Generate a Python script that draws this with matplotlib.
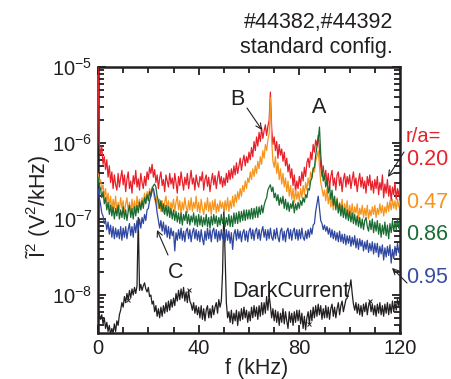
import numpy as np
import matplotlib
matplotlib.use("Agg")
import matplotlib.pyplot as plt
from matplotlib.ticker import LogLocator, FixedLocator, MultipleLocator, NullFormatter

plt.rcParams['font.family'] = ['Liberation Sans', 'DejaVu Sans']
plt.rcParams['mathtext.fontset'] = 'custom'
plt.rcParams['mathtext.rm'] = 'Liberation Sans'
plt.rcParams['mathtext.it'] = 'Liberation Sans:italic'
plt.rcParams['mathtext.default'] = 'regular'

# frequency axis (kHz), 0.5 kHz spacing
freq = np.arange(0, 120.01, 0.5)

# log10 of spectral power
red_020 = [
 -4.9, -6.0, -6.15, -6.05, -6.28, -6.18, -6.35, -6.22, -6.45, -6.3, -6.52, -6.38, -6.6, -6.42, -6.55, -6.62, -6.4, -6.58, -6.46, -6.36,
 -6.55, -6.42, -6.64, -6.48, -6.38, -6.6, -6.5, -6.66, -6.43, -6.54, -6.36, -6.58, -6.47, -6.62, -6.4, -6.52, -6.6, -6.44, -6.56, -6.38,
 -6.48, -6.32, -6.4, -6.28, -6.45, -6.35, -6.52, -6.42, -6.6, -6.46, -6.38, -6.56, -6.48, -6.64, -6.42, -6.5, -6.58, -6.4, -6.54, -6.46,
 -6.6, -6.4, -6.52, -6.66, -6.44, -6.56, -6.38, -6.5, -6.62, -6.45, -6.55, -6.4, -6.6, -6.48, -6.36, -6.54, -6.46, -6.62, -6.42, -6.52,
 -6.58, -6.44, -6.5, -6.38, -6.62, -6.48, -6.42, -6.57, -6.45, -6.64, -6.5, -6.4, -6.55, -6.43, -6.6, -6.47, -6.37, -6.54, -6.44, -6.58,
 -6.46, -6.56, -6.4, -6.52, -6.36, -6.48, -6.34, -6.46, -6.3, -6.42, -6.26, -6.4, -6.3, -6.2, -6.36, -6.24, -6.16, -6.3, -6.18, -6.26,
 -6.12, -6.22, -6.06, -6.18, -5.98, -6.1, -5.92, -6.04, -5.86, -5.98, -5.8, -5.94, -5.84, -5.76, -5.9, -5.78, -5.7, -5.33, -5.8, -6.02,
 -5.92, -6.1, -5.98, -6.2, -6.02, -6.16, -6.08, -6.24, -6.12, -6.3, -6.2, -6.38, -6.28, -6.46, -6.34, -6.56, -6.42, -6.64, -6.5, -6.6,
 -6.44, -6.56, -6.38, -6.5, -6.32, -6.44, -6.26, -6.2, -6.32, -6.12, -6.22, -6.02, -6.12, -5.96, -6.04, -5.9, -6.08, -6.32, -6.44, -6.3,
 -6.48, -6.36, -6.54, -6.4, -6.6, -6.44, -6.36, -6.56, -6.46, -6.62, -6.42, -6.38, -6.56, -6.45, -6.64, -6.48, -6.4, -6.58, -6.44, -6.54,
 -6.42, -6.6, -6.48, -6.38, -6.56, -6.46, -6.64, -6.5, -6.4, -6.58, -6.45, -6.6, -6.5, -6.66, -6.44, -6.56, -6.42, -6.62, -6.5, -6.66,
 -6.48, -6.6, -6.44, -6.68, -6.52, -6.62, -6.42, -6.72, -6.54, -6.66, -6.48, -6.7, -6.56, -6.76, -6.58, -6.68, -6.52, -6.74, -6.6, -6.7,
 -6.56]

orange_047 = [
 -6.4, -6.52, -6.48, -6.62, -6.55, -6.72, -6.6, -6.78, -6.66, -6.84, -6.7, -6.9, -6.74, -6.86, -6.7, -6.92, -6.78, -6.88, -6.72, -6.86,
 -6.76, -6.94, -6.8, -6.72, -6.9, -6.78, -6.94, -6.74, -6.88, -6.76, -6.92, -6.7, -6.84, -6.74, -6.88, -6.72, -6.8, -6.66, -6.76, -6.64,
 -6.72, -6.6, -6.68, -6.58, -6.66, -6.74, -6.8, -6.7, -6.86, -6.74, -6.9, -6.76, -6.92, -6.78, -6.7, -6.88, -6.76, -6.94, -6.78, -6.86,
 -6.74, -6.9, -6.78, -6.7, -6.88, -6.76, -6.94, -6.78, -6.88, -6.72, -6.84, -6.92, -6.76, -6.88, -6.72, -6.9, -6.78, -6.86, -6.7, -6.9,
 -6.78, -6.92, -6.74, -6.86, -6.94, -6.78, -6.88, -6.72, -6.9, -6.78, -6.94, -6.76, -6.88, -6.74, -6.92, -6.8, -6.9, -6.76, -6.86, -6.78,
 -6.9, -6.76, -6.88, -6.72, -6.9, -6.76, -6.86, -6.7, -6.84, -6.68, -6.78, -6.64, -6.74, -6.6, -6.7, -6.56, -6.64, -6.5, -6.6, -6.46,
 -6.52, -6.38, -6.48, -6.34, -6.44, -6.3, -6.4, -6.24, -6.34, -6.18, -6.28, -6.1, -6.2, -6.02, -6.1, -5.96, -5.88, -5.4, -5.96, -6.24,
 -6.32, -6.18, -6.4, -6.26, -6.48, -6.34, -6.54, -6.4, -6.58, -6.46, -6.64, -6.5, -6.7, -6.56, -6.74, -6.6, -6.78, -6.62, -6.74, -6.64,
 -6.76, -6.6, -6.72, -6.56, -6.68, -6.52, -6.62, -6.46, -6.56, -6.38, -6.46, -6.32, -6.38, -6.24, -6.18, -6.1, -6.3, -6.52, -6.6, -6.7,
 -6.62, -6.76, -6.6, -6.8, -6.68, -6.84, -6.72, -6.88, -6.76, -6.84, -6.72, -6.92, -6.78, -6.88, -6.74, -6.94, -6.8, -6.9, -6.76, -6.96,
 -6.82, -6.94, -6.8, -6.98, -6.84, -6.92, -6.8, -7.0, -6.86, -6.94, -6.82, -6.98, -6.86, -6.96, -6.82, -7.0, -6.88, -6.96, -6.84, -6.94,
 -6.82, -6.98, -6.86, -6.94, -6.8, -6.92, -6.82, -6.96, -6.84, -6.92, -6.78, -6.9, -6.76, -6.88, -6.74, -6.86, -6.76, -6.88, -6.74, -6.84,
 -6.76]

green_086 = [
 -6.45, -6.56, -6.6, -6.72, -6.64, -6.8, -6.72, -6.88, -6.78, -6.94, -6.82, -6.96, -6.84, -7.0, -6.86, -6.96, -6.82, -7.0, -6.88, -6.98,
 -6.84, -7.0, -6.88, -7.02, -6.9, -6.82, -6.98, -6.86, -7.0, -6.84, -6.96, -6.82, -6.92, -6.78, -6.88, -6.76, -6.86, -6.72, -6.8, -6.68,
 -6.76, -6.64, -6.7, -6.6, -6.56, -6.54, -6.58, -6.7, -6.76, -6.86, -6.76, -6.9, -6.8, -6.94, -6.82, -6.96, -6.84, -6.98, -6.86, -7.0,
 -6.88, -7.02, -6.9, -7.04, -6.92, -7.06, -6.92, -7.08, -6.94, -7.02, -6.9, -7.06, -6.94, -7.08, -6.96, -7.04, -6.92, -7.08, -6.96, -7.1,
 -6.94, -7.08, -6.96, -7.1, -6.98, -7.08, -6.94, -7.1, -6.98, -7.12, -6.96, -7.08, -6.94, -7.06, -6.96, -7.1, -6.98, -7.08, -6.94, -7.06,
 -6.96, -7.1, -6.98, -7.08, -6.94, -7.1, -6.96, -7.1, -6.92, -7.06, -6.92, -7.06, -6.9, -7.04, -6.9, -7.02, -6.88, -7.02, -6.88, -7.0,
 -6.88, -7.0, -6.86, -7.0, -6.86, -6.98, -6.84, -6.98, -6.84, -6.94, -6.82, -6.92, -6.82, -6.76, -6.72, -6.62, -6.58, -6.55, -6.64, -6.58,
 -6.72, -6.66, -6.76, -6.68, -6.82, -6.72, -6.8, -6.7, -6.86, -6.74, -6.88, -6.78, -6.9, -6.8, -6.86, -6.76, -6.92, -6.8, -6.88, -6.78,
 -6.86, -6.76, -6.82, -6.72, -6.78, -6.68, -6.72, -6.6, -6.62, -6.5, -6.46, -6.34, -6.32, -6.16, -6.05, -5.95, -5.79, -6.15, -6.36, -6.5,
 -6.42, -6.58, -6.48, -6.66, -6.56, -6.74, -6.62, -6.82, -6.7, -6.88, -6.74, -6.92, -6.8, -6.96, -6.82, -6.98, -6.86, -7.0, -6.88, -7.02,
 -6.9, -7.04, -6.92, -7.06, -6.94, -7.08, -6.96, -7.1, -6.98, -7.12, -7.0, -7.14, -7.02, -6.98, -7.1, -7.16, -7.02, -7.14, -7.0, -7.18,
 -7.04, -7.16, -7.02, -7.2, -7.06, -7.24, -7.08, -7.2, -7.04, -7.22, -7.08, -7.26, -7.06, -7.18, -7.02, -7.16, -7.04, -7.14, -7.0, -7.12,
 -7.04]

blue_095 = [
 -6.6, -6.72, -6.8, -6.92, -6.96, -7.06, -7.02, -7.14, -7.04, -7.2, -7.08, -7.24, -7.1, -7.26, -7.12, -7.24, -7.14, -7.26, -7.1, -7.28,
 -7.12, -7.24, -7.1, -7.26, -7.14, -7.06, -7.22, -7.1, -7.24, -7.06, -7.18, -7.02, -7.14, -7.0, -7.12, -6.98, -7.06, -6.94, -7.02, -6.88,
 -6.86, -6.76, -6.7, -6.62, -6.6, -6.68, -6.78, -6.92, -7.02, -7.12, -7.02, -7.16, -7.04, -7.2, -7.08, -7.24, -7.1, -7.26, -7.12, -7.22,
 -7.16, -7.42, -7.18, -7.28, -7.14, -7.26, -7.12, -7.28, -7.16, -7.3, -7.16, -7.12, -7.26, -7.14, -7.3, -7.18, -7.12, -7.26, -7.14, -7.28,
 -7.16, -7.3, -7.14, -7.26, -7.34, -7.16, -7.28, -7.12, -7.26, -7.14, -7.3, -7.16, -7.12, -7.26, -7.14, -7.3, -7.16, -7.28, -7.14, -7.26,
 -7.16, -7.3, -7.14, -7.28, -7.16, -7.32, -7.18, -7.4, -7.2, -7.14, -7.28, -7.14, -7.26, -7.16, -7.3, -7.18, -7.14, -7.28, -7.16, -7.3,
 -7.16, -7.12, -7.26, -7.14, -7.28, -7.16, -7.12, -7.26, -7.14, -7.28, -7.16, -7.1, -7.24, -7.14, -7.28, -7.14, -7.26, -7.12, -7.24, -7.28,
 -7.14, -7.26, -7.12, -7.24, -7.3, -7.16, -7.12, -7.28, -7.16, -7.3, -7.16, -7.12, -7.26, -7.14, -7.28, -7.16, -7.12, -7.26, -7.14, -7.28,
 -7.14, -7.26, -7.12, -7.24, -7.28, -7.16, -7.26, -7.14, -7.24, -7.12, -7.2, -7.08, -7.06, -6.9, -6.8, -6.7, -6.86, -7.02, -7.06, -7.14,
 -7.08, -7.16, -7.1, -7.2, -7.12, -7.24, -7.14, -7.26, -7.16, -7.28, -7.18, -7.3, -7.16, -7.3, -7.2, -7.32, -7.2, -7.34, -7.22, -7.32,
 -7.22, -7.36, -7.24, -7.34, -7.22, -7.38, -7.26, -7.4, -7.26, -7.36, -7.28, -7.42, -7.3, -7.4, -7.28, -7.44, -7.32, -7.42, -7.3, -7.46,
 -7.32, -7.44, -7.32, -7.5, -7.36, -7.46, -7.34, -7.54, -7.38, -7.5, -7.36, -7.48, -7.34, -7.58, -7.4, -7.52, -7.36, -7.48, -7.32, -7.44,
 -7.36]

dark_current = [
 -8.15, -8.25, -8.32, -8.26, -8.38, -8.3, -8.44, -8.36, -8.48, -8.4, -8.52, -8.44, -8.5, -8.38, -8.48, -8.34, -8.4, -8.26, -8.2, -8.1,
 -8.16, -8.02, -8.1, -7.98, -8.06, -7.94, -8.04, -7.92, -8.0, -7.9, -7.98, -7.88, -6.98, -7.94, -7.86, -7.94, -7.88, -7.84, -7.92, -7.96,
 -7.9, -8.02, -8.0, -8.12, -8.08, -8.22, -8.14, -8.28, -8.18, -8.3, -8.16, -8.28, -8.14, -8.24, -8.1, -8.22, -8.08, -8.2, -8.06, -8.16,
 -8.04, -8.14, -7.98, -8.08, -7.94, -8.06, -7.92, -8.04, -7.9, -8.08, -7.96, -8.1, -7.94, -8.08, -8.12, -8.2, -8.1, -8.24, -8.14, -8.26,
 -8.16, -8.3, -8.14, -8.32, -8.18, -8.34, -8.2, -8.14, -8.3, -8.18, -8.3, -8.14, -8.26, -8.16, -8.1, -8.24, -8.06, -8.16, -8.08, -7.7,
 -6.86, -7.5, -8.1, -8.3, -8.22, -8.36, -8.2, -8.38, -8.24, -8.34, -8.2, -8.4, -8.22, -8.34, -8.18, -8.32, -8.16, -8.3, -8.2, -8.36,
 -8.22, -8.34, -8.16, -8.3, -8.14, -8.28, -8.16, -8.32, -8.14, -8.28, -8.1, -8.26, -8.1, -8.24, -8.02, -8.2, -8.0, -8.14, -8.3, -8.18,
 -8.34, -8.2, -8.36, -8.22, -8.4, -8.24, -8.36, -8.18, -8.38, -8.22, -8.34, -8.44, -8.22, -8.36, -8.24, -8.4, -8.22, -8.36, -8.2, -8.34,
 -8.2, -8.38, -8.24, -8.44, -8.28, -8.46, -8.3, -8.22, -8.38, -8.2, -8.34, -8.16, -8.3, -8.14, -8.28, -8.12, -8.26, -8.14, -8.32, -8.18,
 -8.3, -8.14, -8.3, -8.16, -8.32, -8.18, -8.12, -8.28, -8.16, -8.3, -8.18, -8.1, -8.26, -8.14, -8.08, -8.22, -8.14, -8.06, -8.04, -7.96,
 -7.9, -7.8, -7.98, -8.12, -8.2, -8.1, -8.24, -8.12, -8.26, -8.14, -8.28, -8.12, -8.22, -8.1, -8.26, -8.14, -8.08, -8.22, -8.12, -8.26,
 -8.14, -8.28, -8.12, -8.24, -8.1, -8.26, -8.14, -8.28, -8.12, -8.24, -8.1, -8.26, -8.12, -8.24, -8.08, -8.22, -8.1, -8.2, -8.06, -8.14,
 -8.05]

dark_marker_idx = [24, 72, 168, 216]

series_labels = ["0.20", "0.47", "0.86", "0.95"]
colors = ["#e8202a", "#f7941d", "#1a6b32", "#2f47a0"]
label_colors = ["#e3242b", "#f7941d", "#1b6b35", "#3a4ca0"]

W, H = 451, 379
fig = plt.figure(figsize=(W / 100, H / 100), dpi=100)
ax = fig.add_axes([98 / W, 1 - 333 / H, 302 / W, 266 / H])

for vals, c in zip([red_020, orange_047, green_086, blue_095], colors):
    ax.plot(freq, 10 ** np.array(vals), color=c, lw=0.9, zorder=3)
ax.plot(freq, 10 ** np.array(dark_current), color="#231f20", lw=0.9, zorder=2,
        marker='x', markevery=dark_marker_idx, ms=3.5, mew=0.7)

ax.set_yscale('log')
ax.set_xlim(0, 120)
ax.set_ylim(10 ** -8.5, 1e-5)
ax.xaxis.set_major_locator(FixedLocator([0, 40, 80, 120]))
ax.xaxis.set_minor_locator(MultipleLocator(10))
ax.yaxis.set_major_locator(LogLocator(base=10, numticks=10))
ax.yaxis.set_minor_locator(LogLocator(base=10, subs=np.arange(2, 10), numticks=20))
ax.yaxis.set_minor_formatter(NullFormatter())
ax.tick_params(which='both', direction='in', top=True, right=True, width=1.3,
               labelsize=14.5, colors='#231f20', pad=4)
ax.tick_params(which='major', length=6)
ax.tick_params(which='minor', length=4)
for s in ax.spines.values():
    s.set_linewidth(1.8)
    s.set_color('#231f20')

def P(x, y):
    return (x / W, 1 - y / H)

tc = '#231f20'
fs = 15.5
fig.text(*P(257, 374), 'f (kHz)', ha='center', va='baseline', fontsize=fs, color=tc)
fig.text(*P(38, 206), 'Ĩ$^{2}$ (V$^{2}$/kHz)', ha='center', va='center', rotation=90,
         fontsize=fs, color=tc)
fig.text(*P(393, 28), '#44382,#44392', ha='right', va='baseline', fontsize=fs, color=tc)
fig.text(*P(393, 53), 'standard config.', ha='right', va='baseline', fontsize=fs, color=tc)

fig.text(*P(237, 105), 'B', ha='center', va='baseline', fontsize=fs, color=tc)
fig.text(*P(319, 113), 'A', ha='center', va='baseline', fontsize=fs, color=tc)
fig.text(*P(176, 278), 'C', ha='center', va='baseline', fontsize=fs, color=tc)
fig.text(*P(291, 297), 'DarkCurrent', ha='center', va='baseline', fontsize=fs, color=tc)

fig.text(*P(406, 142), 'r/a=', ha='left', va='baseline', fontsize=14.5, color=label_colors[0])
for lab, col, yb in zip(series_labels, label_colors, [165, 208, 240, 283]):
    fig.text(*P(406, yb), lab, ha='left', va='baseline', fontsize=15.5, color=col)

arrows = [((247, 108), (262, 130)), ((168, 255), (157, 230)),
          ((404, 152), (388, 177)), ((407, 283), (392, 268))]
for (x0, y0), (x1, y1) in arrows:
    fig.add_artist(matplotlib.patches.FancyArrowPatch(
        P(x0, y0), P(x1, y1), transform=fig.transFigure,
        arrowstyle='->,head_length=4,head_width=2', color=tc, lw=0.8,
        shrinkA=0, shrinkB=0))

fig.savefig('out.png', dpi=100)
